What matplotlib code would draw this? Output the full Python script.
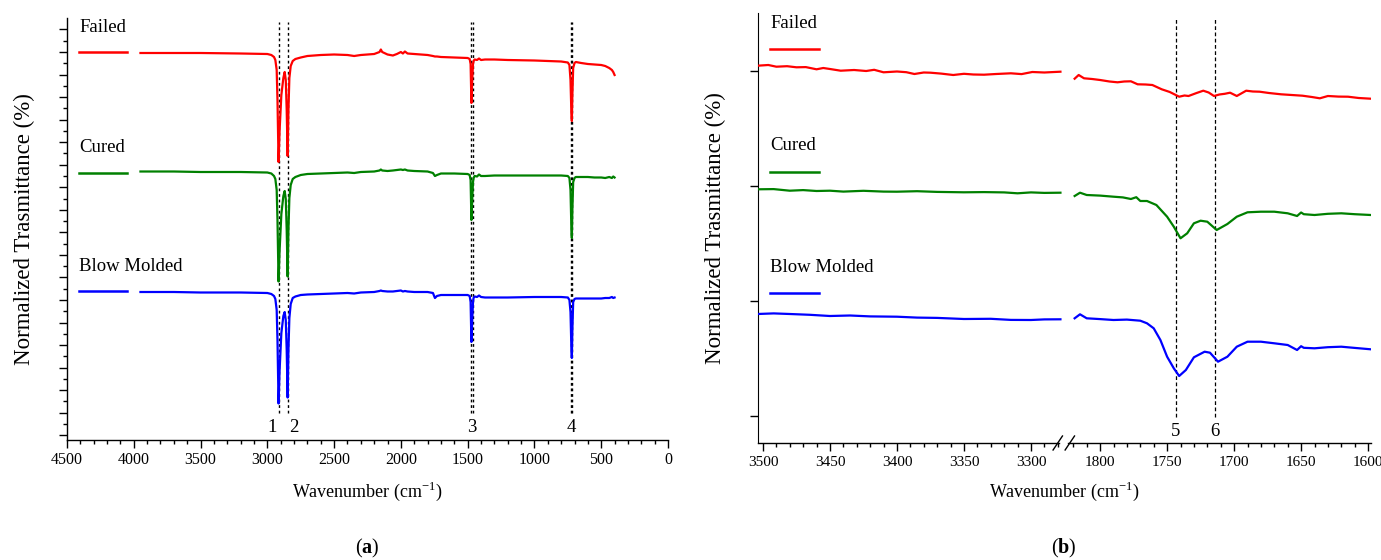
import numpy as np
import matplotlib
matplotlib.use("Agg")
import matplotlib.pyplot as plt
from matplotlib.ticker import FixedLocator, MultipleLocator
import matplotlib.transforms as mtransforms

plt.rcParams["font.family"] = ["Liberation Serif", "DejaVu Serif"]
plt.rcParams["mathtext.fontset"] = "custom"
plt.rcParams["mathtext.rm"] = "Liberation Serif"
plt.rcParams["mathtext.bf"] = "Liberation Serif:bold"

# ---------------- panel (a): full spectrum, values in a.u. (offset per series) ----------------
wn_a = [3950, 3700, 3500, 3200, 3000, 2970, 2950, 2940, 2930, 2924, 2916, 2908, 2895, 2880, 2870,
        2862, 2855, 2848, 2842, 2835, 2825, 2810, 2790, 2750, 2700, 2600, 2500, 2400, 2350, 2300,
        2200, 2160, 2150, 2140, 2100, 2060, 2030, 2000, 1985, 1970, 1950, 1900, 1800, 1760, 1745,
        1730, 1700, 1600, 1500, 1485, 1478, 1472, 1466, 1460, 1456, 1448, 1430, 1415, 1400, 1370,
        1300, 1200, 1000, 900, 800, 750, 738, 730, 724, 720, 716, 710, 700, 690, 650, 600, 550,
        500, 470, 440, 420, 410, 400]

failed_a = [147, 147, 147, 146.5, 146, 145, 143, 140, 130, 100, 38, 70, 105, 122, 128,
            120, 90, 44, 90, 122, 134, 139, 141, 142.5, 144, 145, 145.5, 145, 144, 145,
            146, 148, 150.5, 148, 145.5, 144.5, 146, 148, 146.5, 148.5, 146.5, 146, 145, 144, 143.5,
            143.5, 143, 142.5, 142, 141, 136, 97, 120, 136, 139, 140.5, 140, 141.5, 140, 140.5,
            140.5, 140, 139.5, 139, 138.5, 137.5, 135, 120, 90, 79, 105, 132, 137, 138, 137, 136, 135.5,
            135, 134, 132, 130, 128, 125]

cured_a = [148.5, 148.5, 148, 148, 147.5, 146.5, 144, 141, 130, 100, 38.5, 70, 106, 124, 129,
           121, 90, 43.5, 90, 122, 135, 141, 143, 145, 146, 146.5, 147, 147.5, 147, 148,
           148.5, 149.5, 150.5, 149.5, 149, 149.5, 150, 150.5, 150, 150.5, 149.5, 149, 148.5, 147, 144,
           145, 146.5, 146.5, 146, 145, 140, 100, 120, 138, 142, 144, 143.5, 145.5, 144, 144,
           144.5, 144.5, 144.5, 144.5, 144.5, 144, 142, 130, 95, 82, 110, 138, 142, 143, 143, 143, 142.5,
           142.5, 142, 143, 142, 143.5, 142.5]

blow_a = [148, 148, 147.5, 147.5, 147, 146, 144, 141, 130, 100, 36.5, 70, 107, 124, 128,
          120, 90, 42.5, 90, 122, 136, 142, 143.5, 145, 145.5, 146, 146.5, 147, 146.5, 147.5,
          148, 149, 149.5, 149, 148.5, 148.5, 149, 149.5, 148.5, 149, 148.5, 148, 148, 147, 142,
          144, 145, 145, 145, 144, 138, 98, 120, 138, 142, 143.5, 143, 144.5, 143, 142.5,
          142.5, 142.5, 143, 143, 143, 142.5, 140, 128, 95, 82, 110, 138, 141, 141.5, 141.5, 141.5, 141.5,
          141.5, 142, 142, 143, 142, 142.5]

offsets_a = [240, 120, 0]
peaks_a = [2916, 2849, 1472, 1462, 730, 719]
peak_labels_a = [("1", 2962), ("2", 2800), ("3", 1467), ("4", 725)]

# ---------------- panel (b): zoom with broken axis ----------------
wn_b_hi = [3504, 3496, 3490, 3482, 3475, 3468, 3460, 3455, 3450, 3442, 3432, 3423, 3417, 3410,
           3400, 3393, 3387, 3380, 3375, 3367, 3358, 3350, 3343, 3335, 3326, 3315, 3307, 3299, 3290, 3278]
failed_b_hi = [147.3, 148, 146.3, 146.8, 145.7, 145.9, 143.7, 145, 144, 142.3, 143, 142, 143.2, 140.7,
               141.5, 140.8, 139, 140.5, 140.3, 139.4, 138, 139.2, 138.5, 138.3, 139, 139.7, 138.9,
               141, 140.5, 141.3]
wn_b_hi2 = [3504, 3492, 3480, 3470, 3460, 3450, 3440, 3425, 3410, 3400, 3385, 3370, 3350,
            3335, 3320, 3310, 3300, 3290, 3278]
cured_b_hi = [138.7, 138.9, 137.3, 137.9, 137, 137.3, 136.4, 137.2, 136.4, 136.3, 136.8, 136.1, 135.7,
              135.9, 135.6, 134.7, 135.6, 135.1, 135.3]
wn_b_hi3 = [3504, 3492, 3480, 3465, 3450, 3435, 3420, 3400, 3385, 3370, 3350, 3330, 3315, 3300, 3290, 3278]
blow_b_hi = [129, 129.6, 129, 128.2, 127, 127.5, 126.6, 126.3, 125.4, 125.1, 124, 124.2, 123.1,
             123, 123.6, 123.7]

wn_b_lo1 = [1819, 1816, 1812, 1806, 1800, 1793, 1787, 1782, 1777, 1772, 1766, 1761, 1754, 1748,
            1741, 1737, 1734, 1728, 1723, 1719, 1715, 1711, 1707, 1703, 1698, 1691, 1686, 1681,
            1674, 1665, 1657, 1649, 1642, 1636, 1630, 1622, 1615, 1607, 1598]
failed_b_lo = [134.3, 138, 134.7, 134, 133, 131.5, 130.7, 131.5, 131.7, 128.7, 128.5, 128, 123.7, 121,
               116.3, 117.5, 117, 120, 122.3, 120.5, 117, 118.5, 119.2, 120.3, 117, 122.3, 121.5,
               121.3, 120, 118.7, 118, 117.3, 116, 114.7, 117, 116.4, 116.3, 115, 114.3]
wn_b_lo2 = [1819, 1815, 1810, 1800, 1790, 1783, 1777, 1773, 1770, 1765, 1758, 1750, 1745, 1740,
            1735, 1730, 1725, 1720, 1713, 1705, 1698, 1690, 1680, 1670, 1660, 1653, 1650, 1648,
            1640, 1630, 1620, 1610, 1598]
cured_b_lo = [132, 135.3, 133, 132.4, 131.3, 130.6, 129, 130.8, 127, 127, 123, 111.3, 101.3, 89.7,
              94.7, 104.7, 107.3, 106.3, 98, 104, 111.3, 115.7, 116.3, 116.3, 114.7, 112, 115.5, 113.8,
              113, 114.2, 114.7, 113.8, 113]
wn_b_lo3 = [1819, 1815, 1810, 1800, 1790, 1780, 1770, 1765, 1760, 1755, 1750, 1745, 1741, 1736,
            1730, 1722, 1718, 1712, 1705, 1698, 1690, 1680, 1670, 1660, 1653, 1650, 1648, 1640,
            1630, 1620, 1610, 1598]
blow_b_lo = [124.7, 128.7, 124.7, 123.9, 123, 123.4, 122.3, 119.7, 114.7, 103, 86.3, 74.7, 67, 73,
             85.7, 91.3, 90.3, 81.3, 86.3, 96.3, 101.3, 101.3, 99.7, 98, 93, 96.8, 95.2, 94.7,
             95.8, 96.3, 95.1, 93.7]

offsets_b = [230, 115, 0]
peaks_b = [1743.5, 1714.5]
peak_labels_b = [("5", 1743.5), ("6", 1714.5)]

names = ["Failed", "Cured", "Blow Molded"]
colors = ["#ff0000", "#008000", "#0000ff"]

# broken axis: high range 3504..3276, then jumps to 1827.6
B_START = 3503.7
B_JUMP = 1448.4
B_BREAK = 3276.0


def pos_b(wn):
    wn = np.asarray(wn, dtype=float)
    return np.where(wn > 2500, B_START - wn, B_START - wn - B_JUMP)


fig = plt.figure(figsize=(13.81, 5.60), dpi=100)
W, H = 1381, 560
XLAB = "Wavenumber (cm$^{\\mathregular{-1}}$)"
YLAB = "Normalized Trasmittance (%)"

# ---------- (a) ----------
ax = fig.add_axes([67 / W, (H - 440) / H, 601 / W, 422 / H])
ax.set_xlim(4500, 0)
ax.set_ylim(0, 422)
for s in ["top", "right"]:
    ax.spines[s].set_visible(False)
for s in ["left", "bottom"]:
    ax.spines[s].set_linewidth(1.0)

for wn in peaks_a:
    ax.plot([wn, wn], [27, 418], ls=(0, (2, 2)), color="black", lw=1.0, zorder=1)

for name, col, off, vals in zip(names, colors, offsets_a, [failed_a, cured_a, blow_a]):
    ax.plot(wn_a, np.array(vals) + off, color=col, lw=1.6, zorder=3)

trans = mtransforms.blended_transform_factory(ax.transAxes, ax.transData)
txt_y = [413, 292.3, 173.3]
line_y = [387.7, 266.7, 149]
for name, col, ty, ly in zip(names, colors, txt_y, line_y):
    ax.text(0.02, ty, name, transform=trans, fontsize=13.5, va="center", ha="left")
    ax.plot([0.02, 0.10], [ly, ly], color=col, lw=1.8, transform=trans)

for lab, wn in peak_labels_a:
    ax.text(wn, 13, lab, fontsize=13.5, ha="center", va="center")

ax.xaxis.set_major_locator(MultipleLocator(500))
ax.xaxis.set_minor_locator(MultipleLocator(100))
ax.yaxis.set_major_locator(FixedLocator(np.arange(4.7, 415, 22.55)))
ax.yaxis.set_minor_locator(FixedLocator(np.arange(4.7 + 11.275, 415, 22.55)))
ax.set_yticklabels([])
ax.tick_params(axis="both", which="major", direction="out", length=5.5, width=1.0, labelsize=11.5)
ax.tick_params(axis="both", which="minor", direction="out", length=3, width=1.0)
ax.set_xlabel(XLAB, fontsize=13, labelpad=8)
ax.set_ylabel(YLAB, fontsize=16.5, labelpad=14)
fig.text(367 / W, 1 - 548 / H, r"($\mathbf{a}$)", fontsize=14.5, ha="center", va="center")

# ---------- (b) ----------
bx = fig.add_axes([758 / W, (H - 443) / H, 613 / W, 430 / H])
bx.set_xlim(0, 613 / 1.34)
bx.set_ylim(0, 430)
for s in ["top", "right", "bottom"]:
    bx.spines[s].set_visible(False)

for wn in peaks_b:
    p = float(pos_b(wn))
    bx.plot([p, p], [26, 426], ls=(0, (3, 2)), color="black", lw=0.9, zorder=1)

hi_sets = [(wn_b_hi, failed_b_hi), (wn_b_hi2, cured_b_hi), (wn_b_hi3, blow_b_hi)]
lo_sets = [(wn_b_lo1, failed_b_lo), (wn_b_lo2, cured_b_lo), (wn_b_lo3, blow_b_lo)]
for col, off, hi, lo in zip(colors, offsets_b, hi_sets, lo_sets):
    bx.plot(pos_b(hi[0]), np.array(hi[1]) + off, color=col, lw=1.6, zorder=3)
    bx.plot(pos_b(lo[0]), np.array(lo[1]) + off, color=col, lw=1.6, zorder=3)

trans_b = mtransforms.blended_transform_factory(bx.transAxes, bx.transData)
txt_yb = [420, 297, 176]
line_yb = [394, 271, 150]
for name, col, ty, ly in zip(names, colors, txt_yb, line_yb):
    bx.text(0.0196, ty, name, transform=trans_b, fontsize=13.5, va="center", ha="left")
    bx.plot([0.0196, 0.10], [ly, ly], color=col, lw=1.8, transform=trans_b)

for lab, wn in peak_labels_b:
    bx.text(float(pos_b(wn)), 11, lab, fontsize=13.5, ha="center", va="center")

# bottom spine drawn by hand with the break
p_break = B_START - B_BREAK
bx.plot([0, p_break - 3], [0, 0], color="black", lw=1.0, clip_on=False, zorder=5)
bx.plot([p_break + 4, 613 / 1.34], [0, 0], color="black", lw=1.0, clip_on=False, zorder=5)
for dx in (-4, 5):
    bx.plot([p_break + dx - 3.5, p_break + dx + 3.5], [-7, 7], color="black", lw=1.0,
            clip_on=False, zorder=5)

hi_major = [3500, 3450, 3400, 3350, 3300]
lo_major = [1800, 1750, 1700, 1650, 1600]
hi_minor = [w for w in range(3280, 3510, 10) if w % 50]
lo_minor = [w for w in range(1600, 1830, 10) if w % 50]
bx.set_xticks(list(pos_b(hi_major)) + list(pos_b(lo_major)))
bx.set_xticklabels([str(v) for v in hi_major + lo_major])
bx.set_xticks(list(pos_b(hi_minor)) + list(pos_b(lo_minor)), minor=True)
bx.set_yticks([27.3, 142.3, 257.3, 372.3])
bx.set_yticklabels([])
bx.tick_params(axis="both", which="major", direction="out", length=5.5, width=1.0, labelsize=11)
bx.tick_params(axis="x", which="minor", direction="out", length=3, width=1.0)
bx.set_xlabel(XLAB, fontsize=13, labelpad=8)
bx.set_ylabel(YLAB, fontsize=16.5, labelpad=14)
fig.text(1064 / W, 1 - 548 / H, r"($\mathbf{b}$)", fontsize=14.5, ha="center", va="center")

fig.savefig("out.png", dpi=100)
